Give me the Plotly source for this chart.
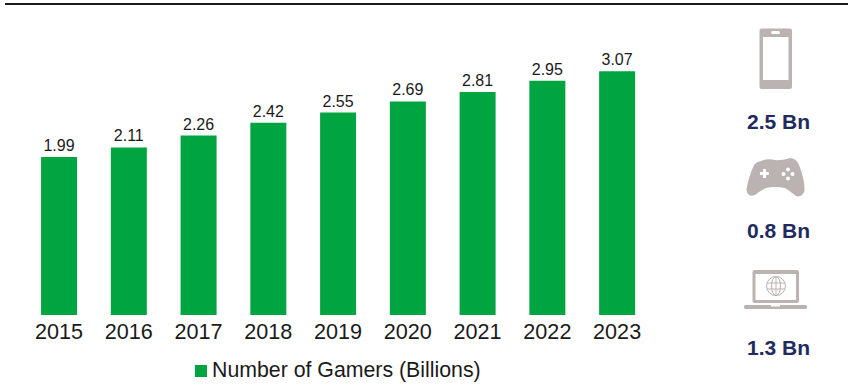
import plotly.graph_objects as go

years = ["2015", "2016", "2017", "2018", "2019", "2020", "2021", "2022", "2023"]
gamers = [1.99, 2.11, 2.26, 2.42, 2.55, 2.69, 2.81, 2.95, 3.07]
labels = ["1.99", "2.11", "2.26", "2.42", "2.55", "2.69", "2.81", "2.95", "3.07"]
platform_labels = ["2.5 Bn", "0.8 Bn", "1.3 Bn"]
legend_text = "Number of Gamers (Billions)"

W, H = 848, 391
GREEN = "#00a440"
ICON = "#bab3b1"
NAVY = "#1f2a60"
FONT = "Liberation Sans"


def px(x):
    return x / W


def py(y):
    return 1 - y / H


def path(points):
    """Build an SVG path in paper coordinates from page-pixel commands."""
    out = []
    for cmd in points:
        if isinstance(cmd, str):
            out.append(cmd)
        else:
            out.append(f"{px(cmd[0]):.5f},{py(cmd[1]):.5f}")
    return " ".join(out)


def rect(x0, y0, x1, y1, color, **kw):
    return dict(type="rect", xref="paper", yref="paper", x0=px(x0), x1=px(x1),
                y0=py(y1), y1=py(y0), fillcolor=color,
                line=dict(width=kw.get("lw", 0), color=kw.get("lc", color)), layer="above")


def poly(points, fill=None, line=None, lw=1):
    return dict(type="path", xref="paper", yref="paper", path=path(points),
                fillcolor=fill or "rgba(0,0,0,0)",
                line=dict(width=lw if line else 0, color=line or "rgba(0,0,0,0)"), layer="above")


def ellipse(cx, cy, rx, ry, fill=None, line=None, lw=1):
    return dict(type="circle", xref="paper", yref="paper", x0=px(cx - rx), x1=px(cx + rx),
                y0=py(cy + ry), y1=py(cy - ry), fillcolor=fill or "rgba(0,0,0,0)",
                line=dict(width=lw if line else 0, color=line or "rgba(0,0,0,0)"), layer="above")


def rounded(x0, y0, x1, y1, r):
    return ["M", (x0 + r, y0), "L", (x1 - r, y0), "Q", (x1, y0), (x1, y0 + r),
            "L", (x1, y1 - r), "Q", (x1, y1), (x1 - r, y1),
            "L", (x0 + r, y1), "Q", (x0, y1), (x0, y1 - r),
            "L", (x0, y0 + r), "Q", (x0, y0), (x0 + r, y0), "Z"]


shapes = [rect(5, 3, 848, 5, "#1c1c1c")]

# phone icon
shapes += [
    poly(rounded(759.5, 28.5, 792, 89, 2), fill=ICON),
    rect(763, 37, 788.5, 80, "white"),
    poly(rounded(771, 31, 780, 34, 1.5), fill="white"),
]

# gamepad icon
shapes += [
    poly(["M", (761, 161), "Q", (768, 158), (775, 160), "Q", (780, 161), (790, 158),
          "Q", (796, 158), (799, 165), "Q", (805, 180), (804.5, 191),
          "Q", (802, 198), (796, 196), "Q", (790, 191), (785, 188),
          "Q", (775, 186), (766, 188), "Q", (760, 191), (755, 195),
          "Q", (748, 198), (746.5, 190), "Q", (748, 178), (754, 165),
          "Q", (756, 162), (761, 161), "Z"], fill=ICON),
    rect(760, 172, 769, 175, "white"),
    rect(763, 169, 766, 178, "white"),
    ellipse(788, 169.5, 2, 2, fill="white"),
    ellipse(788, 178.5, 2, 2, fill="white"),
    ellipse(783.5, 174, 2, 2, fill="white"),
    ellipse(792.5, 174, 2, 2, fill="white"),
]

# laptop icon with globe on the screen
shapes += [
    poly(rounded(752.5, 270, 799, 303, 2), fill=ICON),
    rect(755.5, 274, 796, 300, "white"),
    poly(rounded(744, 305, 807, 309, 1.5), fill=ICON),
    rect(771, 305, 780, 306.5, "white"),
    ellipse(776, 286, 9.5, 9.5, line=ICON, lw=1),
    ellipse(776, 286, 4.5, 9.5, line=ICON, lw=1),
    poly(["M", (776, 276.5), "L", (776, 295.5)], line=ICON, lw=1),
    poly(["M", (767, 283), "L", (785, 283)], line=ICON, lw=1),
    poly(["M", (767, 289), "L", (785, 289)], line=ICON, lw=1),
]

# legend swatch
shapes.append(rect(195, 365, 207, 377, GREEN))

annotations = [
    dict(xref="paper", yref="paper", x=px(210), y=py(370), xanchor="left", yanchor="middle",
         text=legend_text, showarrow=False, font=dict(family=FONT, size=21.3, color="#1a1a1a")),
]
for label, y_pos in zip(platform_labels, [121, 231, 347]):
    annotations.append(
        dict(xref="paper", yref="paper", x=px(778), y=py(y_pos), xanchor="center", yanchor="middle",
             text=f"<b>{label}</b>", showarrow=False, font=dict(family=FONT, size=21, color=NAVY))
    )

fig = go.Figure(
    go.Bar(
        x=years,
        y=gamers,
        name=legend_text,
        marker=dict(color=GREEN, line=dict(width=0)),
        text=labels,
        textposition="outside",
        cliponaxis=False,
        textfont=dict(family=FONT, size=16, color="#1a1a1a"),
        width=0.516,
    )
)

fig.update_layout(
    width=W,
    height=H,
    margin=dict(l=0, r=0, t=0, b=0),
    paper_bgcolor="white",
    plot_bgcolor="white",
    showlegend=False,
    shapes=shapes,
    annotations=annotations,
    font=dict(family=FONT),
    xaxis=dict(
        domain=[px(24.2), px(652)],
        type="category",
        showgrid=False,
        zeroline=False,
        showline=False,
        ticks="",
        ticklabelstandoff=1,
        tickfont=dict(family=FONT, size=21.6, color="#1a1a1a"),
        anchor="y",
    ),
    yaxis=dict(
        domain=[py(315), py(20)],
        range=[0, 295 / 79.4],
        visible=False,
    ),
)

fig.write_html("out.html")
